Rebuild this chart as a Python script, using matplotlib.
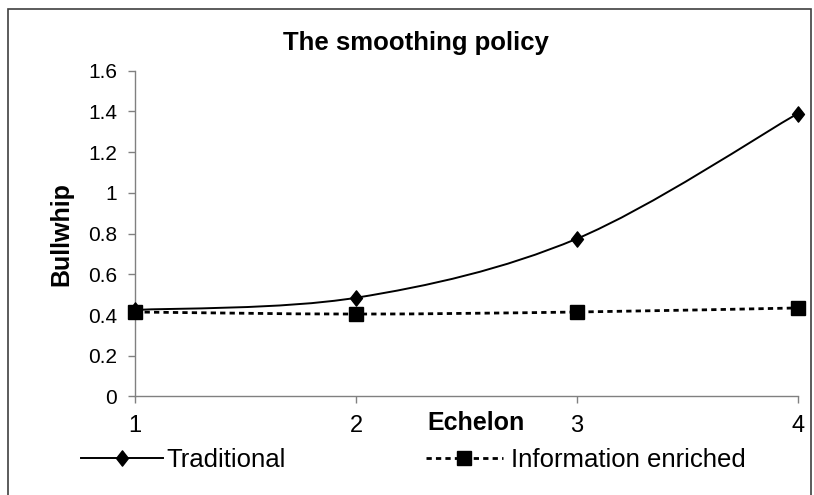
import matplotlib
matplotlib.use("Agg")
import matplotlib.pyplot as plt
import numpy as np
from matplotlib.path import Path
from matplotlib.patches import PathPatch, Rectangle
from matplotlib.lines import Line2D

echelon = [1, 2, 3, 4]
traditional = [0.425, 0.485, 0.775, 1.39]
info_enriched = [0.415, 0.405, 0.415, 0.435]
y_ticks = [0, 0.2, 0.4, 0.6, 0.8, 1, 1.2, 1.4, 1.6]
y_tick_labels = ["0", "0.2", "0.4", "0.6", "0.8", "1", "1.2", "1.4", "1.6"]

plt.rcParams["font.family"] = ["Liberation Sans", "DejaVu Sans"]

# taller-than-wide diamond, like Excel's marker
DIAMOND = Path([(0, 1), (0.78, 0), (0, -1), (-0.78, 0), (0, 1)],
               [Path.MOVETO, Path.LINETO, Path.LINETO, Path.LINETO, Path.CLOSEPOLY])
DASH = (0, (1.9, 1.5))


def smooth_path(xs, ys):
    # Bezier segments like Excel's "smoothed line" option
    pts = np.column_stack([xs, ys]).astype(float)
    n = len(pts)
    verts = [pts[0]]
    codes = [Path.MOVETO]
    for i in range(n - 1):
        p0 = pts[i - 1] if i > 0 else pts[i]
        p1, p2 = pts[i], pts[i + 1]
        p3 = pts[i + 2] if i + 2 < n else pts[i + 1]
        c1 = p1 + (p2 - p0) / 6.0
        c2 = p2 - (p3 - p1) / 6.0
        verts += [c1, c2, p2]
        codes += [Path.CURVE4] * 3
    return Path(verts, codes)


fig = plt.figure(figsize=(8.14, 4.95), dpi=100)
ax = fig.add_axes([0.166, 0.199, 0.814, 0.658])

ax.add_patch(PathPatch(smooth_path(echelon, traditional), fill=False,
                       ec="black", lw=1.4, capstyle="butt"))
ax.add_patch(PathPatch(smooth_path(echelon, info_enriched), fill=False,
                       ec="black", lw=2.0, ls=DASH))
ax.plot(echelon, traditional, ls="none", marker=DIAMOND, ms=11, color="black",
        clip_on=False, zorder=5)
ax.plot(echelon, info_enriched, ls="none", marker="s", ms=9.5, color="black",
        clip_on=False, zorder=5)

ax.set_xlim(1, 4)
ax.set_ylim(0, 1.6)
ax.set_xticks(echelon)
ax.set_xticklabels([str(e) for e in echelon])
ax.set_yticks(y_ticks)
ax.set_yticklabels(y_tick_labels)
ax.tick_params(axis="both", labelsize=15, color="#808080", length=5, width=1)
ax.tick_params(axis="x", labelsize=17, pad=8)
ax.tick_params(axis="y", pad=8)
for s in ["top", "right"]:
    ax.spines[s].set_visible(False)
for s in ["left", "bottom"]:
    ax.spines[s].set_color("#808080")
    ax.spines[s].set_linewidth(1)

fig.text(0.511, 0.913, "The smoothing policy", ha="center", va="center",
         fontsize=18.5, fontweight="bold")
fig.text(0.076, 0.527, "Bullwhip", ha="center", va="center", rotation=90,
         fontsize=18, fontweight="bold")
fig.text(0.585, 0.146, "Echelon", ha="center", va="center",
         fontsize=18, fontweight="bold")

h_trad = Line2D([], [], color="black", lw=1.4, marker=DIAMOND, ms=11)
h_info = Line2D([], [], color="black", lw=2.0, ls=DASH, marker="s", ms=9.5)
leg1 = fig.legend([h_trad], ["Traditional"], loc="center left",
                  bbox_to_anchor=(0.099, 0.071), frameon=False, fontsize=18.5,
                  handlelength=3.2, handletextpad=0.15, borderpad=0,
                  borderaxespad=0)
leg2 = fig.legend([h_info], ["Information enriched"], loc="center left",
                  bbox_to_anchor=(0.523, 0.071), frameon=False, fontsize=18.5,
                  handlelength=3.0, handletextpad=0.3, borderpad=0,
                  borderaxespad=0)

fig.add_artist(Rectangle((8 / 814, -0.05), 803 / 814, 1.05 - 9 / 495,
                         transform=fig.transFigure, fill=False,
                         ec="#404040", lw=1.2))

fig.savefig("out.png", dpi=100)
